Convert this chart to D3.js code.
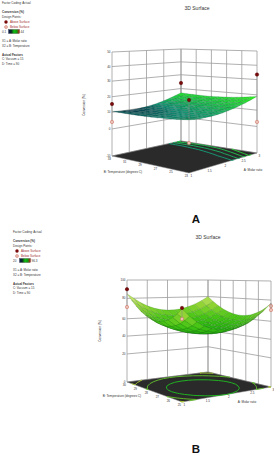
<!DOCTYPE html>
<html>
<head>
<meta charset="utf-8">
<script src="https://cdnjs.cloudflare.com/ajax/libs/d3/7.8.5/d3.min.js"></script>
<style>
  html, body { margin: 0; padding: 0; background: #fff; }
  svg { display: block; font-family: "Liberation Sans", Arial, sans-serif; }
  .grid { stroke: #9c9c9c; stroke-width: 0.8; fill: none; }
  .tick-label { font-size: 3px; fill: #333; }
  .axis-title { font-size: 3.1px; fill: #333; }
</style>
</head>
<body>
<svg id="chart" width="274" height="455"></svg>
<script>
// ---- data ----
const molarTicks = [1, 1.5, 2, 2.5, 3];

const tempTicksA = [33, 31, 29, 27, 25, 23];
const conversionTicksA = [-10, 0, 10, 20, 30, 40, 50];
const contourLevelsA = [14, 15, 16, 17];
// rows go from low to high temperature, columns from low to high molar ratio
const surfaceA = [
  [13.0, 12.6, 12.3, 12.3, 12.3, 12.6, 13.0, 13.6, 14.3, 15.3, 16.3, 17.6, 19.0],
  [12.6, 12.3, 12.1, 12.1, 12.2, 12.5, 12.9, 13.4, 14.1, 15.0, 16.0, 17.1, 18.4],
  [12.1, 11.9, 11.8, 11.9, 12.0, 12.3, 12.7, 13.3, 13.9, 14.7, 15.6, 16.7, 17.8],
  [11.8, 11.6, 11.6, 11.7, 11.9, 12.2, 12.6, 13.1, 13.7, 14.5, 15.3, 16.3, 17.4],
  [11.5, 11.4, 11.4, 11.5, 11.7, 12.0, 12.4, 12.9, 13.5, 14.2, 15.0, 16.0, 17.0],
  [11.2, 11.1, 11.2, 11.3, 11.5, 11.8, 12.2, 12.7, 13.3, 14.0, 14.8, 15.7, 16.7],
  [11.0, 10.9, 11.0, 11.1, 11.3, 11.6, 12.0, 12.5, 13.1, 13.8, 14.6, 15.5, 16.5],
  [10.8, 10.7, 10.7, 10.9, 11.1, 11.4, 11.8, 12.3, 12.9, 13.6, 14.4, 15.4, 16.4],
  [10.7, 10.6, 10.6, 10.6, 10.8, 11.1, 11.6, 12.1, 12.7, 13.5, 14.3, 15.3, 16.3],
  [10.6, 10.5, 10.4, 10.4, 10.6, 10.9, 11.3, 11.9, 12.5, 13.3, 14.2, 15.2, 16.4],
  [10.6, 10.3, 10.2, 10.2, 10.4, 10.6, 11.1, 11.6, 12.3, 13.2, 14.1, 15.3, 16.5],
  [10.6, 10.3, 10.0, 10.0, 10.1, 10.4, 10.8, 11.4, 12.1, 13.0, 14.1, 15.3, 16.7],
  [10.7, 10.2, 9.9, 9.8, 9.8, 10.1, 10.5, 11.1, 11.9, 12.9, 14.1, 15.5, 17.0]
];
const aboveMolarA = [1, 3, 1, 3];
const aboveTempA = [33, 33, 23, 23];
const aboveConvA = [15.3, 24, 24.7, 33.5];
const belowMolarA = [1, 3, 1];
const belowTempA = [33, 23, 23];
const belowConvA = [4.2, 2.8, 0.2];

const tempTicksB = [30, 29, 28, 27, 26, 25];
const conversionTicksB = [0, 20, 40, 60, 80, 100];
const contourLevelsB = [55, 65, 75];
const surfaceB = [
  [77.0, 70.3, 64.8, 60.5, 57.4, 55.6, 55.0, 55.6, 57.4, 60.5, 64.8, 70.3, 77.0],
  [72.1, 66.0, 60.9, 57.0, 54.3, 52.6, 52.0, 52.7, 54.4, 57.2, 61.2, 66.3, 72.5],
  [68.3, 62.6, 58.0, 54.3, 51.8, 50.2, 49.8, 50.4, 52.0, 54.6, 58.4, 63.1, 68.9],
  [65.5, 60.2, 55.8, 52.5, 50.1, 48.7, 48.3, 48.8, 50.3, 52.8, 56.3, 60.7, 66.2],
  [63.7, 58.7, 54.6, 51.4, 49.2, 47.9, 47.4, 48.0, 49.3, 51.7, 55.0, 59.2, 64.2],
  [62.8, 58.1, 54.1, 51.2, 49.0, 47.7, 47.4, 47.8, 49.1, 51.4, 54.4, 58.4, 63.1],
  [63.0, 58.4, 54.7, 51.8, 49.7, 48.4, 48.0, 48.4, 49.7, 51.8, 54.7, 58.4, 63.0],
  [64.2, 59.7, 56.0, 53.1, 51.0, 49.8, 49.4, 49.7, 50.9, 52.9, 55.7, 59.3, 63.7],
  [66.3, 61.9, 58.2, 55.3, 53.2, 51.9, 51.4, 51.8, 52.9, 54.8, 57.5, 61.0, 65.2],
  [69.5, 64.9, 61.3, 58.3, 56.2, 54.8, 54.3, 54.5, 55.5, 57.4, 60.0, 63.4, 67.6],
  [73.7, 69.0, 65.1, 62.1, 59.8, 58.4, 57.8, 58.0, 58.9, 60.7, 63.2, 66.7, 70.9],
  [78.8, 73.9, 69.9, 66.7, 64.4, 62.7, 62.0, 62.1, 63.1, 64.8, 67.3, 70.7, 75.0],
  [85.0, 79.9, 75.6, 72.2, 69.5, 67.8, 67.0, 67.0, 67.9, 69.7, 72.2, 75.7, 80.0]
];
const aboveMolarB = [1, 1];
const aboveTempB = [30, 25];
const aboveConvB = [90, 77.7];
const belowMolarB = [1, 1, 3, 3];
const belowTempB = [30, 25, 25, 25];
const belowConvB = [71.5, 68.4, 74.4, 70.6];

const legendBarStops = ["#0a1a5a", "#0a2a20", "#12c012", "#0f9a10", "#c01515"];

class surfaceChart {
  constructor(opts = {}) {
    this.svg = opts.svg;
    this.opts = opts;
    this.corners = opts.corners; // screen position of the floor corners
    this.heights = opts.heights; // wall height at those corners
    this.n = opts.surface.length;
    this.xscale = d3.scaleLinear().domain(d3.extent(molarTicks)).range([0, 1]);
    this.yscale = d3.scaleLinear().domain(d3.extent(opts.tempTicks)).range([0, 1]);
    this.zscale = d3.scaleLinear().domain(opts.zTicks).range(opts.zFractions);
    this.colour = d3.scaleLinear().domain(opts.colourDomain).range(opts.colourRange);
    this.molarAt = d3.scaleLinear().domain([0, this.n - 1]).range(this.xscale.domain());
    this.tempAt = d3.scaleLinear().domain([0, this.n - 1]).range(this.yscale.domain());
    this.g = this.svg.append("g");
    this.drawWalls();
    this.drawFloor();
    this.drawSurface();
    this.drawPoints();
    this.drawAxes();
    this.drawLegend();
  }

  bilinear(c, u, v) {
    return c.front * (1 - u) * (1 - v) + c.right * u * (1 - v) + c.left * (1 - u) * v + c.back * u * v;
  }

  // molar ratio, temperature, conversion -> screen
  project(a, b, z) {
    const u = this.xscale(a), v = this.yscale(b);
    const c = this.corners;
    const x = this.bilinear({ front: c.front[0], right: c.right[0], left: c.left[0], back: c.back[0] }, u, v);
    const y = this.bilinear({ front: c.front[1], right: c.right[1], left: c.left[1], back: c.back[1] }, u, v);
    return [x, y - this.bilinear(this.heights, u, v) * this.zscale(z)];
  }

  drawWalls() {
    const o = this.opts, xd = this.xscale.domain(), yd = this.yscale.domain();
    const line = d3.line();
    const floorZ = o.zTicks[0], topZ = o.zTicks[o.zTicks.length - 1];
    const wall = this.g.append("g").attr("class", "grid");

    o.zTicks.forEach(z => {
      wall.append("path").attr("d", line([
        this.project(xd[0], yd[1], z), this.project(xd[1], yd[1], z), this.project(xd[1], yd[0], z)
      ]));
    });
    molarTicks.forEach(a => {
      wall.append("path").attr("d", line([this.project(a, yd[1], floorZ), this.project(a, yd[1], topZ)]));
    });
    o.tempTicks.forEach(b => {
      wall.append("path").attr("d", line([this.project(xd[1], b, floorZ), this.project(xd[1], b, topZ)]));
    });
  }

  drawFloor() {
    const o = this.opts, xd = this.xscale.domain(), yd = this.yscale.domain();
    const floorZ = o.zTicks[0], n = this.n;
    const line = d3.line();

    this.g.append("path")
      .attr("d", line([
        this.project(xd[0], yd[0], floorZ), this.project(xd[1], yd[0], floorZ),
        this.project(xd[1], yd[1], floorZ), this.project(xd[0], yd[1], floorZ)
      ]) + "Z")
      .attr("fill", "#2a2a2a")
      .attr("stroke", "#8a8a8a")
      .attr("stroke-width", 0.5);

    // contour lines come from the same grid as the surface
    const contours = d3.contours().size([n, n]).thresholds(o.contourLevels)(o.surface.flat());
    const gx = d3.scaleLinear().domain([0.5, n - 0.5]).range(xd).clamp(true);
    const gy = d3.scaleLinear().domain([0.5, n - 0.5]).range(yd).clamp(true);
    const onEdge = (p, q) =>
      (p[0] == q[0] && (p[0] <= 0 || p[0] >= n)) || (p[1] == q[1] && (p[1] <= 0 || p[1] >= n));

    contours.forEach(c => {
      c.coordinates.forEach(poly => poly.forEach(ring => {
        let segs = [];
        for (let i = 1; i < ring.length; i++) {
          if (onEdge(ring[i - 1], ring[i])) continue;
          segs.push(line([ring[i - 1], ring[i]].map(p => this.project(gx(p[0]), gy(p[1]), floorZ))));
        }
        this.g.append("path")
          .attr("d", segs.join(""))
          .attr("fill", "none")
          .attr("stroke", o.contourColour(c.value))
          .attr("stroke-width", 0.9);
      }));
    });
  }

  drawSurface() {
    const o = this.opts, n = this.n, s = o.surface;
    const cells = [];
    for (let j = 0; j < n - 1; j++) {
      for (let i = 0; i < n - 1; i++) {
        cells.push({ i: i, j: j, mean: d3.mean([s[j][i], s[j][i + 1], s[j + 1][i], s[j + 1][i + 1]]) });
      }
    }
    // far corner first
    cells.sort((p, q) => (q.i + q.j) - (p.i + p.j));
    const pt = (i, j) => this.project(this.molarAt(i), this.tempAt(j), s[j][i]);

    this.g.append("g").selectAll("path")
      .data(cells)
      .join("path")
      .attr("d", d => d3.line()([pt(d.i, d.j), pt(d.i + 1, d.j), pt(d.i + 1, d.j + 1), pt(d.i, d.j + 1)]) + "Z")
      .attr("fill", d => this.colour(d.mean))
      .attr("stroke", o.meshColour)
      .attr("stroke-opacity", 0.4)
      .attr("stroke-width", 0.35);
  }

  drawPoints() {
    const o = this.opts, s = o.surface;
    const surfaceAt = (a, b) =>
      s[Math.round(this.tempAt.invert(b))][Math.round(this.molarAt.invert(a))];
    const draw = (as, bs, zs, fill, stroke) => {
      as.forEach((a, k) => {
        const p = this.project(a, bs[k], zs[k]);
        const q = this.project(a, bs[k], surfaceAt(a, bs[k]));
        this.g.append("line")
          .attr("x1", p[0]).attr("y1", p[1]).attr("x2", q[0]).attr("y2", q[1])
          .attr("stroke", "#8a8a8a").attr("stroke-width", 0.6);
        this.g.append("circle")
          .attr("cx", p[0]).attr("cy", p[1]).attr("r", 1.7)
          .attr("fill", fill).attr("stroke", stroke).attr("stroke-width", 0.5);
      });
    };
    draw(o.belowMolar, o.belowTemp, o.belowConv, "#ecc0b4", "#c86a5c");
    draw(o.aboveMolar, o.aboveTemp, o.aboveConv, "#7a0a0a", "#5a0505");
  }

  drawAxes() {
    const o = this.opts, xd = this.xscale.domain(), yd = this.yscale.domain();
    const floorZ = o.zTicks[0];
    const g = this.g;

    o.zTicks.forEach(z => {
      const p = this.project(xd[0], yd[1], z);
      g.append("text").attr("class", "tick-label")
        .attr("x", p[0] - 1.5).attr("y", p[1] + 1).attr("text-anchor", "end")
        .text(z);
    });
    molarTicks.forEach(a => {
      const p = this.project(a, yd[0], floorZ);
      g.append("text").attr("class", "tick-label")
        .attr("x", p[0] + 1.5).attr("y", p[1] + 3.5)
        .text(a);
    });
    o.tempTicks.forEach(b => {
      const p = this.project(xd[0], b, floorZ);
      g.append("text").attr("class", "tick-label")
        .attr("x", p[0] - 1).attr("y", p[1] + 3.5).attr("text-anchor", "end")
        .text(b);
    });

    g.append("text").attr("class", "axis-title")
      .attr("x", o.molarTitle[0]).attr("y", o.molarTitle[1]).attr("text-anchor", "middle")
      .text("A: Molar ratio");
    g.append("text").attr("class", "axis-title")
      .attr("x", o.tempTitle[0]).attr("y", o.tempTitle[1]).attr("text-anchor", "middle")
      .text("B: Temperature (degrees C)");
    g.append("text").attr("class", "axis-title")
      .attr("transform", `translate(${o.zTitle[0]},${o.zTitle[1]}) rotate(-90)`).attr("text-anchor", "middle")
      .text("Conversion (%)");

    g.append("text")
      .attr("x", o.title[0]).attr("y", o.title[1]).attr("text-anchor", "middle")
      .attr("font-size", 5).attr("fill", "#333")
      .text("3D Surface");
    g.append("text")
      .attr("x", 196).attr("y", o.panelY).attr("text-anchor", "middle")
      .attr("font-size", 11.5).attr("font-weight", "bold").attr("fill", "#111")
      .text(o.panel);
  }

  drawLegend() {
    const o = this.opts, x = o.legend[0], y = o.legend[1];
    const g = this.g.append("g").attr("transform", `translate(${x},${y})`).attr("font-size", 3).attr("fill", "#333");
    const row = (dy, t, dx = 0) => g.append("text").attr("x", dx).attr("y", dy + 1).text(t);

    row(0, "Factor Coding: Actual");
    row(9, "Conversion (%)").attr("font-weight", "bold");
    row(14, "Design Points:");
    row(19, "Above Surface", 8).attr("fill", "#a02a2a");
    row(24, "Below Surface", 8).attr("fill", "#a02a2a");
    g.append("circle").attr("cx", 4).attr("cy", 19).attr("r", 1.7).attr("fill", "#7a0a0a");
    g.append("circle").attr("cx", 4).attr("cy", 24).attr("r", 1.5).attr("fill", "#ecc0b4").attr("stroke", "#c86a5c").attr("stroke-width", 0.5);

    row(28.5, o.legendLow);
    const gradId = "bar" + o.panel;
    const grad = this.svg.append("defs").append("linearGradient").attr("id", gradId);
    legendBarStops.forEach((c, i) => {
      grad.append("stop").attr("offset", i / (legendBarStops.length - 1)).attr("stop-color", c);
    });
    g.append("rect").attr("x", 6.5).attr("y", 26.5).attr("width", 11).attr("height", 4)
      .attr("fill", `url(#${gradId})`).attr("stroke", "#222").attr("stroke-width", 0.3);
    row(28.5, o.legendHigh, 18.5);

    row(37.5, "X1 = A: Molar ratio");
    row(42.5, "X2 = B: Temperature");
    row(51.5, "Actual Factors").attr("font-weight", "bold");
    row(56, "C: Vacuum = 15");
    row(61, "D: Time = 90");
  }
}

const svg = d3.select("#chart");

new surfaceChart({
  svg: svg, panel: "A", panelY: 223, title: [197, 9.5], legend: [2, 3],
  legendLow: "0.1", legendHigh: "44",
  surface: surfaceA, tempTicks: tempTicksA, zTicks: conversionTicksA,
  zFractions: [0, 0.26, 0.42, 0.57, 0.72, 0.86, 1],
  corners: { front: [189, 173], right: [257, 153], left: [112, 156], back: [181, 141] },
  heights: { front: 114, right: 102, left: 104, back: 92 },
  contourLevels: contourLevelsA,
  contourColour: d3.scaleLinear().domain([14, 17]).range(["#14a078", "#2ad83a"]),
  colourDomain: [9.8, 11.5, 14, 17.5], colourRange: ["#0d3a50", "#14967a", "#1fc050", "#2ee62a"],
  meshColour: "#06322c",
  aboveMolar: aboveMolarA, aboveTemp: aboveTempA, aboveConv: aboveConvA,
  belowMolar: belowMolarA, belowTemp: belowTempA, belowConv: belowConvA,
  molarTitle: [253, 171], tempTitle: [123, 173], zTitle: [85, 105]
});

new surfaceChart({
  svg: svg, panel: "B", panelY: 452.5, title: [208, 238.5], legend: [13, 232],
  legendLow: "20", legendHigh: "96.3",
  surface: surfaceB, tempTicks: tempTicksB, zTicks: conversionTicksB,
  zFractions: [0, 0.275, 0.45, 0.62, 0.82, 1],
  corners: { front: [182, 402], right: [271, 387], left: [127, 382], back: [208, 372] },
  heights: { front: 118, right: 106, left: 102, back: 92 },
  contourLevels: contourLevelsB,
  contourColour: d3.scaleLinear().domain([55, 75]).range(["#1fc01f", "#a8c83a"]),
  colourDomain: [47, 60, 72, 85], colourRange: ["#1aa80e", "#44c414", "#95d535", "#e0ec90"],
  meshColour: "#0e4c0e",
  aboveMolar: aboveMolarB, aboveTemp: aboveTempB, aboveConv: aboveConvB,
  belowMolar: belowMolarB, belowTemp: belowTempB, belowConv: belowConvB,
  molarTitle: [247, 403], tempTitle: [122, 397], zTitle: [101, 331]
});
</script>
</body>
</html>
